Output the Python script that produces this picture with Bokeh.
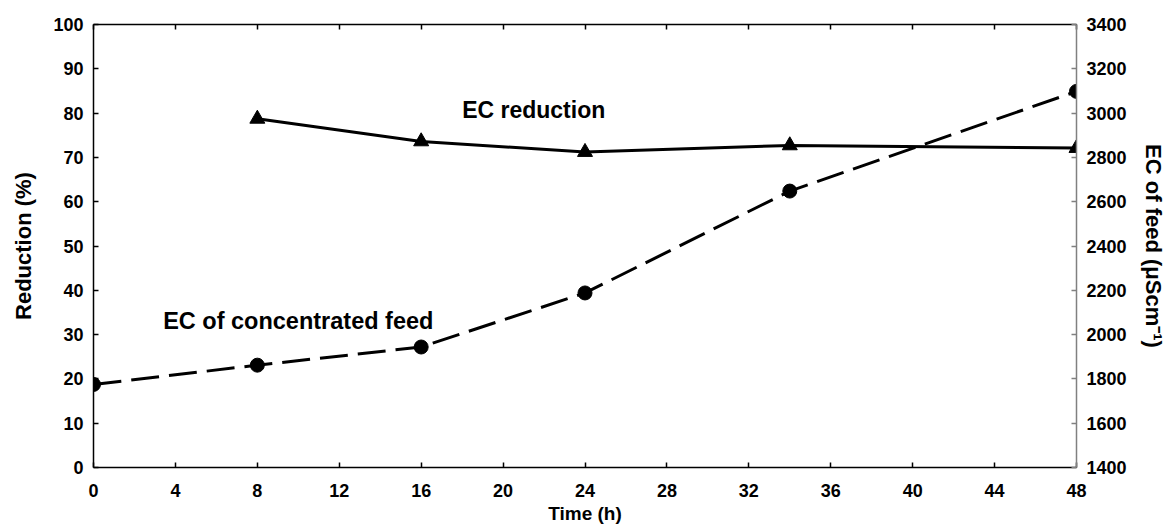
from bokeh.plotting import figure
from bokeh.models import Range1d, LinearAxis, FixedTicker, Label
from bokeh.embed import file_html
from bokeh.resources import INLINE

# Data
time_red = [8, 16, 24, 34, 48]
ec_reduction = [78.7, 73.6, 71.2, 72.7, 72.1]

time_feed = [0, 8, 16, 24, 34, 48]
ec_feed = [1775, 1862, 1944, 2188, 2648, 3098]

x_ticks = [0, 4, 8, 12, 16, 20, 24, 28, 32, 36, 40, 44, 48]
left_ticks = [0, 10, 20, 30, 40, 50, 60, 70, 80, 90, 100]
right_ticks = [1400, 1600, 1800, 2000, 2200, 2400, 2600, 2800, 3000, 3200, 3400]

FONT = "Liberation Sans"

p = figure(width=1168, height=529, output_backend="svg", toolbar_location=None,
           x_range=Range1d(0, 48), y_range=Range1d(0, 100),
           min_border_left=93, min_border_right=91, min_border_top=24, min_border_bottom=62)
p.outline_line_color = None
p.xgrid.visible = False
p.ygrid.visible = False
p.background_fill_color = "white"
p.border_fill_color = "white"

p.extra_y_ranges = {"ec": Range1d(1400, 3400)}


def style_axis(ax, size="18px"):
    ax.major_label_text_font = FONT
    ax.major_label_text_font_style = "bold"
    ax.major_label_text_font_size = size
    ax.major_label_text_color = "black"
    ax.axis_label_text_font = FONT
    ax.axis_label_text_font_style = "bold"
    ax.axis_label_text_color = "black"
    ax.major_tick_in = 5
    ax.major_tick_out = 0
    ax.minor_tick_line_color = None
    ax.axis_line_width = 1.5
    ax.major_tick_line_width = 1.5


xa = p.xaxis[0]
xa.ticker = FixedTicker(ticks=x_ticks)
style_axis(xa)
xa.axis_label = "Time (h)"
xa.axis_label_text_font_size = "19px"
xa.major_label_standoff = 16
xa.axis_label_standoff = 3

ya = p.yaxis[0]
ya.ticker = FixedTicker(ticks=left_ticks)
style_axis(ya)
ya.axis_label = "Reduction (%)"
ya.axis_label_text_font_size = "22px"
ya.major_label_standoff = 10
ya.axis_label_standoff = 14

ra = LinearAxis(y_range_name="ec", ticker=FixedTicker(ticks=right_ticks))
style_axis(ra)
ra.axis_label = "EC of feed (\u03bcScm\u207b\u00b9)"
ra.axis_label_text_font_size = "22px"
ra.major_label_standoff = 10
ra.axis_label_standoff = 11
ra.axis_line_color = "#808080"
ra.major_tick_line_color = "#808080"
p.add_layout(ra, "right")

# top border with inward ticks, no labels
ta = LinearAxis(ticker=FixedTicker(ticks=x_ticks))
style_axis(ta, size="2px")
ta.major_label_text_color = None
ta.major_label_standoff = 0
p.add_layout(ta, "above")

# EC reduction (solid, triangles)
p.line(time_red, ec_reduction, line_color="black", line_width=3)
p.scatter(time_red, ec_reduction, marker="triangle", size=15, fill_color="black", line_color="black")

# EC of feed (dashed, circles) on right axis
p.line(time_feed, ec_feed, line_color="black", line_width=3, line_dash="28 10", y_range_name="ec")
p.scatter(time_feed, ec_feed, marker="circle", size=14, fill_color="black", line_color="black",
          y_range_name="ec")

lab1 = Label(x=18, y=80.6, text="EC reduction", text_font=FONT, text_font_style="bold",
             text_font_size="23px", text_baseline="middle", text_align="left", text_color="black")
lab2 = Label(x=3.4, y=33, text="EC of concentrated feed", text_font=FONT, text_font_style="bold",
             text_font_size="23.5px", text_baseline="middle", text_align="left", text_color="black")
p.add_layout(lab1)
p.add_layout(lab2)

open("out.html", "w").write(file_html(p, INLINE))
